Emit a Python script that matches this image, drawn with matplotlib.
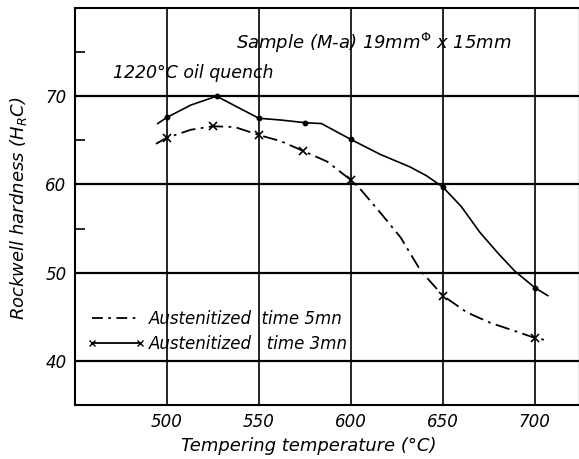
import matplotlib.pyplot as plt
from matplotlib.lines import Line2D

# solid curve (dots at the measured temperatures)
solid_temp = [495, 500, 513, 527, 538, 550, 562, 575, 584, 600, 616, 632, 641, 650, 660, 670, 680, 689, 700, 707]
solid_hrc = [66.9, 67.6, 69.0, 70.0, 68.8, 67.5, 67.3, 67.0, 66.9, 65.1, 63.4, 62.0, 61.0, 59.7, 57.5, 54.6, 52.2, 50.2, 48.3, 47.4]
solid_marks = [1, 3, 5, 7, 9, 13, 18]

# dash-dot curve (crosses at the measured temperatures)
dash_temp = [494, 500, 513, 525, 537, 550, 562, 574, 587, 600, 605, 616, 627, 638, 650, 663, 676, 689, 700, 705]
dash_hrc = [64.6, 65.3, 66.2, 66.6, 66.5, 65.6, 64.9, 63.8, 62.6, 60.5, 59.5, 56.8, 54.0, 50.2, 47.4, 45.5, 44.3, 43.4, 42.6, 42.4]
dash_marks = [1, 3, 5, 7, 9, 14, 18]

x_ticks = [500, 550, 600, 650, 700]
y_ticks = [40, 50, 60, 70]
legend_labels = ["Austenitized  time 5mn", "Austenitized   time 3mn"]

plt.rcParams["font.family"] = "DejaVu Sans"
plt.rcParams["mathtext.fontset"] = "dejavusans"

fig = plt.figure(figsize=(5.79, 4.59), dpi=100)
ax = fig.add_axes([0.1295, 0.1176, 0.8705, 0.865])

ax.plot(solid_temp, solid_hrc, color="black", lw=1.2, marker="o", ms=3.2,
        markevery=solid_marks)
ax.plot(dash_temp, dash_hrc, color="black", lw=1.3, ls=(0, (8, 3, 1.5, 3)),
        marker="x", ms=6, mew=1.2, markevery=dash_marks)

ax.set_xlim(450, 724)
ax.set_ylim(35.0, 80)
ax.set_xticks(x_ticks)
ax.set_yticks(y_ticks)
ax.set_yticks([55, 65, 75], minor=True)
ax.tick_params(axis="both", which="major", length=0, labelsize=12, pad=6)
ax.tick_params(axis="y", which="minor", direction="in", length=7, width=1.2)
for lab in ax.get_xticklabels() + ax.get_yticklabels():
    lab.set_style("italic")

for y in y_ticks:
    ax.axhline(y, color="black", lw=1.6, zorder=0)
for x in x_ticks:
    ax.axvline(x, color="black", lw=1.2, zorder=0)

for side in ["left", "bottom", "top"]:
    ax.spines[side].set_linewidth(1.5)
ax.spines["right"].set_linewidth(1.0)
ax.spines["right"].set_color("0.55")

ax.set_xlabel("Tempering temperature (°C)", fontsize=13, style="italic")
ax.xaxis.set_label_coords(0.464, -0.081)
ax.set_ylabel("Rockwell hardness (H$_R$C)", fontsize=13, style="italic")
ax.yaxis.set_label_coords(-0.091, 0.496)

ax.text(0.319, 0.912, r"Sample (M-a) 19mm$^{\Phi}$ x 15mm", transform=ax.transAxes,
        fontsize=13, style="italic", ha="left", va="center")
ax.text(0.075, 0.836, "1220°C oil quench", transform=ax.transAxes,
        fontsize=12.5, style="italic", ha="left", va="center")

handles = [
    Line2D([], [], color="black", lw=1.3, ls=(0, (6, 3, 1.5, 3))),
    Line2D([], [], color="black", lw=1.3, marker="x", ms=5),
]
ax.legend(handles, legend_labels, loc="center left", bbox_to_anchor=(0.024, 0.185),
          frameon=False, borderpad=0, borderaxespad=0, handlelength=3.5,
          handletextpad=0.2, labelspacing=0.4, numpoints=2,
          prop={"style": "italic", "size": 12})

fig.savefig("out.png", dpi=100)
